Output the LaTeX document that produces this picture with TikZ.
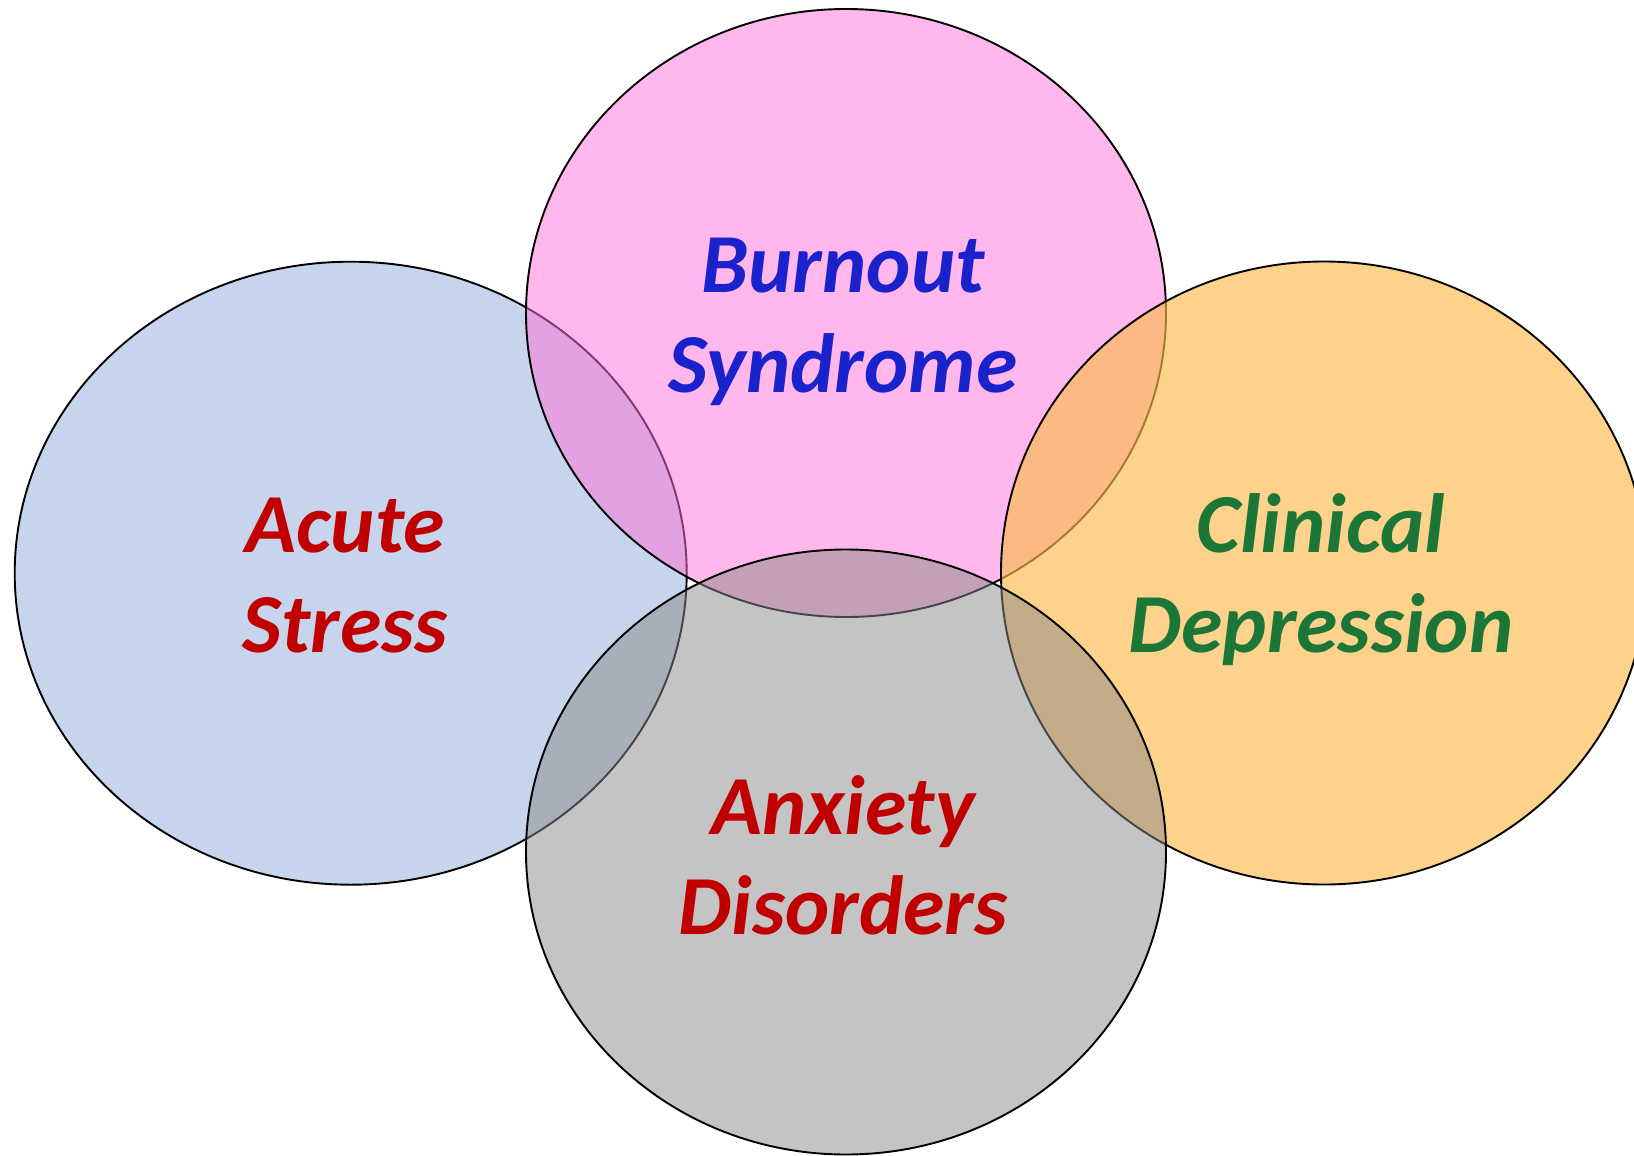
\documentclass[tikz,border=0pt]{standalone}
\usepackage{fontspec}
\setmainfont{Carlito}
\definecolor{cblue}{RGB}{143,171,217}
\definecolor{cpink}{RGB}{255,111,217}
\definecolor{corange}{RGB}{252,186,75}
\definecolor{cgray}{RGB}{137,137,137}
\definecolor{tblue}{RGB}{26,34,204}
\definecolor{tred}{RGB}{192,0,0}
\definecolor{tgreen}{RGB}{28,118,55}
\begin{document}
\begin{tikzpicture}[x=0.5pt,y=-0.5pt,
  blob/.style={draw=black,line width=0.95pt,fill opacity=0.5},
  lbl/.style={align=center,font=\fontsize{42}{50}\selectfont\bfseries\itshape,inner sep=0pt}]
\useasboundingbox (0,0) rectangle (1634,1156);
\path[blob,fill=cblue]   (350.7,573.2) ellipse [x radius=336, y radius=311.5];
\path[blob,fill=cpink]   (846,313)     ellipse [x radius=320, y radius=304];
\path[blob,fill=corange,fill opacity=0.65] (1324,573) ellipse [x radius=323, y radius=311.5];
\path[blob,fill=cgray]   (846,852)     ellipse [x radius=320, y radius=302.5];
\node[lbl,text=tblue]  (burnout)  at (843,322) {Burnout\\Syndrome};
\node[lbl,text=tred]   (acute)    at (345,576)   {Acute\\Stress};
\node[lbl,text=tgreen] (clinical) at (1321,580) {Clinical\\Depression};
\node[lbl,text=tred]   (anxiety)  at (843,855)   {Anxiety\\Disorders};
\end{tikzpicture}
\end{document}
